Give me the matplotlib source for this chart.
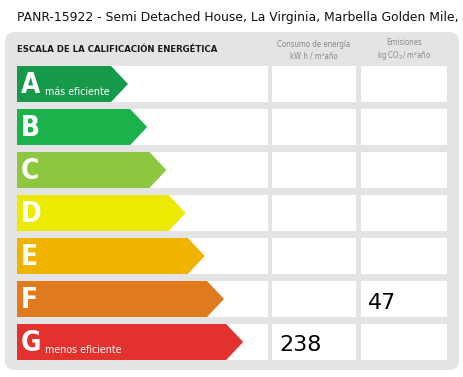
import matplotlib
matplotlib.use('Agg')
import matplotlib.pyplot as plt
from matplotlib.patches import FancyBboxPatch, Polygon, Rectangle

#%% data

title = 'PANR-15922 - Semi Detached House, La Virginia, Marbella Golden Mile,'
header = 'ESCALA DE LA CALIFICACIÓN ENERGÉTICA'
col_titles = ['Consumo de energía\nkW h / m²año', 'Emisiones\nkg CO$_2$/ m²año']
letters = ['A', 'B', 'C', 'D', 'E', 'F', 'G']
subtexts = ['más eficiente', '', '', '', '', '', 'menos eficiente']
colors = ['#17994a', '#1cb24b', '#8dc63f', '#ebea00', '#f0b400', '#e07a1f', '#e3312d']
consumo = [None, None, None, None, None, None, 238]
emisiones = [None, None, None, None, None, 47, None]

#%% figure, pixel coordinates

W, H = 464, 377
f = plt.figure(figsize=(W / 100, H / 100), dpi=100)
ax = f.add_axes([0, 0, 1, 1])
ax.set_xlim(0, W)
ax.set_ylim(H, 0)
ax.axis('off')

cond = dict(family='DejaVu Sans', stretch='condensed')

ax.text(17, 17, title, fontsize=8.9, family='DejaVu Sans', va='center', ha='left', color='#111111')

panel = FancyBboxPatch((5, 32), 454, 338, boxstyle='round,pad=0,rounding_size=10',
                       fc='#e4e4e4', ec='none')
ax.add_patch(panel)

ax.text(17, 50, header, fontsize=6.8, weight='bold', va='center', ha='left',
        color='#1a1a1a', **cond)
ax.text(314, 50, col_titles[0], fontsize=5.7, va='center', ha='center',
        color='#8a8a8a', linespacing=1.3, **cond)
ax.text(404, 50, col_titles[1], fontsize=5.7, va='center', ha='center',
        color='#8a8a8a', linespacing=1.3, **cond)

y0, pitch, h = 66, 43, 36
for i, (let, sub, c) in enumerate(zip(letters, subtexts, colors)):
    y = y0 + i * pitch
    # white cells
    ax.add_patch(Rectangle((17, y), 251, h, fc='white', ec='none'))
    ax.add_patch(Rectangle((272, y), 84, h, fc='white', ec='none'))
    ax.add_patch(Rectangle((361, y), 86, h, fc='white', ec='none'))
    # arrow
    tip = 128 + i * 19.2
    body = tip - 17
    ax.add_patch(Polygon([(17, y), (body, y), (tip, y + h / 2), (body, y + h), (17, y + h)],
                         closed=True, fc=c, ec='none'))
    ax.text(21, y + h / 2 + 1, let, fontsize=20, weight='bold',
            color='white', va='center', ha='left', **cond)
    if sub:
        ax.text(45, y + h - 10, sub, fontsize=7.7, color='white',
                va='center', ha='left', **cond)
    if consumo[i] is not None:
        ax.text(279, y + h / 2 + 3, str(consumo[i]), fontsize=16, family='DejaVu Sans',
                color='black', va='center', ha='left')
    if emisiones[i] is not None:
        ax.text(368, y + h / 2 + 4, str(emisiones[i]), fontsize=16, family='DejaVu Sans',
                color='black', va='center', ha='left')

f.savefig('out.png', dpi=100, facecolor='white')
